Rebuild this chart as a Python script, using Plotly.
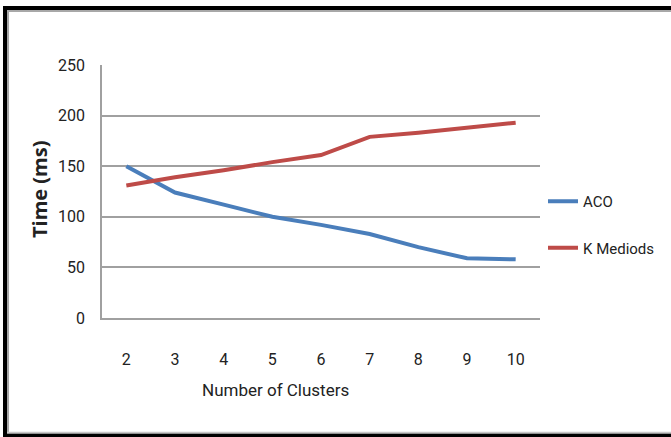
import plotly.graph_objects as go

clusters = ["2", "3", "4", "5", "6", "7", "8", "9", "10"]
aco = [150, 124, 112, 100, 92, 83, 70, 59, 58]
kmediods = [131, 139, 146, 154, 161, 179, 183, 188, 193]
y_ticks = [0, 50, 100, 150, 200, 250]

FONT = "Roboto, sans-serif"
W, H = 671, 437
L, R, T, B = 102, 0, 65, 119
PLOT_RIGHT = 540
PW, PH = W - L - R, H - T - B


def px(x):
    return (x - L) / PW


def py(y):
    return (H - B - y) / PH


fig = go.Figure()
fig.add_trace(go.Scatter(x=clusters, y=aco, name="ACO", mode="lines",
                         line=dict(color="#4A7EBB", width=4), legendgroup="a"))
fig.add_trace(go.Scatter(x=clusters, y=kmediods, name="K Mediods", mode="lines",
                         line=dict(color="#BE4B48", width=4), legendgroup="b"))

shapes = []
shapes.append(dict(type="line", xref="paper", yref="paper", x0=px(5), x1=px(5), y0=py(6), y1=py(437),
                   line=dict(color="black", width=4)))
shapes.append(dict(type="line", xref="paper", yref="paper", x0=px(3), x1=px(671), y0=py(8), y1=py(8),
                   line=dict(color="black", width=4)))
shapes.append(dict(type="line", xref="paper", yref="paper", x0=px(3), x1=px(671), y0=py(435.5), y1=py(435.5),
                   line=dict(color="black", width=4)))
shapes.append(dict(type="line", xref="paper", yref="paper", x0=px(8), x1=px(8), y0=py(10), y1=py(433),
                   line=dict(color="#A8A8A8", width=2)))
shapes.append(dict(type="line", xref="paper", yref="paper", x0=px(7), x1=px(671), y0=py(11), y1=py(11),
                   line=dict(color="#A8A8A8", width=2)))
shapes.append(dict(type="line", xref="paper", yref="paper", x0=px(7), x1=px(671), y0=py(432.5), y1=py(432.5),
                   line=dict(color="#C8C8C8", width=1.5)))

fig.update_layout(
    width=W, height=H,
    margin=dict(l=L, r=R, t=T, b=B),
    paper_bgcolor="white", plot_bgcolor="white",
    font=dict(family=FONT, size=16, color="#222222"),
    showlegend=True,
    legend=dict(x=px(543), y=py(185), xanchor="left", yanchor="top",
                traceorder="grouped", tracegroupgap=24,
                font=dict(family=FONT, size=15, color="#222222"),
                bgcolor="rgba(0,0,0,0)", itemwidth=30),
    shapes=shapes,
    annotations=[
        dict(text="Number of Clusters", xref="paper", yref="paper", x=px(275), y=py(390),
             showarrow=False, font=dict(family=FONT, size=17, color="#222222"),
             xanchor="center", yanchor="middle"),
        dict(text="<b>Time (ms)</b>", xref="paper", yref="paper", x=px(39), y=py(190),
             showarrow=False, textangle=-90, font=dict(family="Open Sans, sans-serif", size=20, color="#222222"),
             xanchor="center", yanchor="middle"),
    ],
)
fig.update_xaxes(type="category", range=[-0.5, len(clusters) - 0.5], domain=[0, px(PLOT_RIGHT)],
                 showgrid=False, showline=True, linecolor="#A0A0A0", linewidth=1.5,
                 ticks="", ticklabelstandoff=26, tickfont=dict(size=16), zeroline=False)
fig.update_yaxes(range=[0, 250], tickvals=y_ticks, showgrid=True, gridcolor="#A0A0A0", gridwidth=1.5,
                 showline=True, linecolor="#A0A0A0", linewidth=1.5, ticks="", ticklabelstandoff=12,
                 tickfont=dict(size=16), zeroline=False)

fig.write_html("out.html", config={"displayModeBar": False},
               post_script="document.body.style.margin='0';document.body.style.padding='0';"
                           "document.documentElement.style.overflow='hidden';")
